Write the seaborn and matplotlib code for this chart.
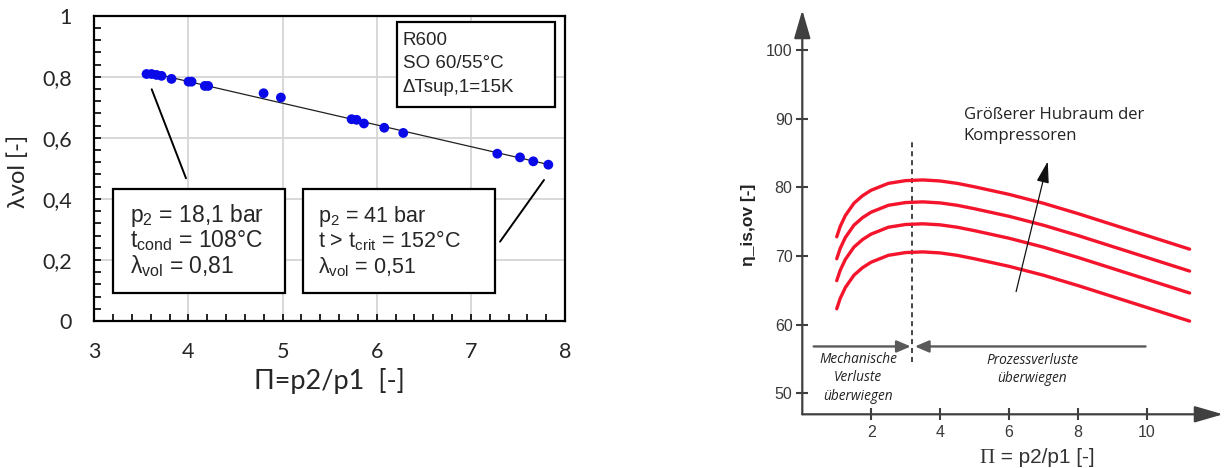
import numpy as np
import pandas as pd
import matplotlib
matplotlib.use("Agg")
import matplotlib.pyplot as plt
from matplotlib.ticker import MultipleLocator, FixedLocator
from matplotlib.patches import Rectangle
import seaborn as sns

# ---------------- data (left: measured points) ----------------
pi_ratio = [3.555, 3.608, 3.661, 3.714, 3.820, 4.001, 4.033, 4.174, 4.209, 4.798,
            4.982, 5.733, 5.786, 5.864, 6.080, 6.282, 7.281, 7.522, 7.663, 7.823]
lambda_vol = [0.809, 0.809, 0.806, 0.803, 0.793, 0.784, 0.784, 0.770, 0.770, 0.746,
              0.732, 0.661, 0.659, 0.647, 0.633, 0.616, 0.548, 0.536, 0.523, 0.512]
left_xticks = [3, 4, 5, 6, 7, 8]
left_yticks = [0, 0.2, 0.4, 0.6, 0.8, 1.0]
left_yticklabels = ["0", "0,2", "0,4", "0,6", "0,8", "1"]

# ---------------- data (right: schematic efficiency curves) ----------------
pi_curve = [1.0, 1.1, 1.25, 1.5, 1.75, 2.0, 2.5, 3.0, 3.5, 4.0, 4.5, 5.0,
            6.0, 7.0, 8.0, 9.0, 10.0, 11.25]
eta_curve_1 = [72.8, 74.3, 75.9, 77.7, 78.8, 79.6, 80.6, 81.0, 81.1, 80.95, 80.6, 80.1,
               79.0, 77.7, 76.2, 74.6, 73.0, 71.0]
eta_curve_2 = [69.6, 71.1, 72.7, 74.5, 75.6, 76.4, 77.4, 77.8, 77.9, 77.75, 77.4, 76.9,
               75.8, 74.5, 73.0, 71.4, 69.8, 67.8]
eta_curve_3 = [66.4, 67.9, 69.5, 71.3, 72.4, 73.2, 74.2, 74.6, 74.7, 74.55, 74.2, 73.7,
               72.6, 71.3, 69.8, 68.2, 66.6, 64.6]
eta_curve_4 = [62.3, 63.8, 65.4, 67.2, 68.3, 69.1, 70.1, 70.5, 70.6, 70.45, 70.1, 69.6,
               68.5, 67.2, 65.7, 64.1, 62.5, 60.5]
right_xticks = [2, 4, 6, 8, 10]
right_yticks = [50, 60, 70, 80, 90, 100]
boundary_pi = 3.2

# ---------------- style ----------------
sns.set_theme(style="white")
plt.rcParams["font.family"] = ["Liberation Sans", "DejaVu Sans"]
plt.rcParams["mathtext.fontset"] = "custom"
plt.rcParams["mathtext.rm"] = "Liberation Sans"
plt.rcParams["mathtext.it"] = "Liberation Sans:italic"
plt.rcParams["mathtext.bf"] = "Liberation Sans:bold"

fig = plt.figure(figsize=(12.24, 4.68), dpi=100)
W, H = 1224.0, 468.0

# ======================= LEFT CHART =======================
axL = fig.add_axes([94.3 / W, 1 - 321 / H, 470.7 / W, 305.3 / H])
dfL = pd.DataFrame({"pi": pi_ratio, "lam": lambda_vol})

axL.set_xlim(3, 8)
axL.set_ylim(0, 1)
axL.grid(True, which="major", color="#d6d6d6", lw=1.3)
axL.set_axisbelow(True)

coef = np.polyfit(dfL["pi"], dfL["lam"], 1)
fit_x = np.array([dfL["pi"].min(), dfL["pi"].max()])
fit_df = pd.DataFrame({"pi": fit_x, "lam": np.polyval(coef, fit_x)})
sns.lineplot(data=fit_df, x="pi", y="lam", ax=axL, color="#202020", lw=0.9, zorder=3)
sns.scatterplot(data=dfL, x="pi", y="lam", ax=axL, color="#0a0ae8", s=50,
                edgecolor="none", zorder=4)

axL.xaxis.set_major_locator(FixedLocator(left_xticks))
axL.yaxis.set_major_locator(FixedLocator(left_yticks))
axL.set_yticklabels(left_yticklabels)
axL.xaxis.set_minor_locator(MultipleLocator(0.2))
axL.yaxis.set_minor_locator(MultipleLocator(0.04))
axL.tick_params(axis="both", which="both", direction="in", length=4.8, width=1.2,
                color="black", top=False, right=False, left=True, bottom=True)
axL.tick_params(axis="y", which="major", pad=16, labelsize=15.5)
axL.tick_params(axis="x", which="major", pad=15, labelsize=15.5)
for lab in axL.get_xticklabels() + axL.get_yticklabels():
    lab.set_fontfamily(["Lato", "DejaVu Sans"])
for sp in axL.spines.values():
    sp.set_visible(True)
    sp.set_color("black")
    sp.set_linewidth(1.6)

axL.set_xlabel("Π=p2/p1  [-]", fontsize=19.5, family=["Lato", "DejaVu Sans"])
axL.xaxis.set_label_coords(0.5, -0.197)
axL.xaxis.label.set_va("center")
axL.set_ylabel("λvol [-]", fontsize=17, family=["Lato", "DejaVu Sans"])
axL.yaxis.set_label_coords(-0.1615, 0.491)
axL.yaxis.label.set_va("center")

def ax_frac(px, py):
    return ((px - 94.3) / 470.7, (321 - py) / 305.3)

# Info box top right
x0, y1 = ax_frac(396.7, 22.3)
x1, y0 = ax_frac(555, 106.7)
axL.add_patch(Rectangle((x0, y0), x1 - x0, y1 - y0, transform=axL.transAxes,
                        fill=True, facecolor="white", edgecolor="black", lw=1.6, zorder=5))
info_lines = ["R600", "SO 60/55°C", "ΔTsup,1=15K"]
for txt, by in zip(info_lines, [45.0, 67.5, 92.5]):
    tx, ty = ax_frac(402.7, by)
    axL.text(tx, ty, txt, transform=axL.transAxes, fontsize=13.5, va="baseline",
             ha="left", zorder=6)

# Annotation boxes
box_specs = [
    ((113.3, 189, 285, 292.7), 130,
     [r"p$_\mathrm{2}$ = 18,1 bar", r"t$_\mathrm{cond}$ = 108°C", r"λ$_\mathrm{vol}$ = 0,81"], 16.5),
    ((302.7, 189, 495, 293.3), 318,
     [r"p$_\mathrm{2}$ = 41 bar", r"t > t$_\mathrm{crit}$ = 152°C", r"λ$_\mathrm{vol}$ = 0,51"], 15.5),
]
for (bx0, by0, bx1, by1), tx_px, lines, fs in box_specs:
    fx0, fy1 = ax_frac(bx0, by0)
    fx1, fy0 = ax_frac(bx1, by1)
    axL.add_patch(Rectangle((fx0, fy0), fx1 - fx0, fy1 - fy0, transform=axL.transAxes,
                            facecolor="white", edgecolor="black", lw=1.6, zorder=5))
    for txt, by in zip(lines, [222.0, 247.5, 273.0]):
        tx, ty = ax_frac(tx_px, by)
        axL.text(tx, ty, txt, transform=axL.transAxes, fontsize=fs, va="baseline",
                 ha="left", zorder=6)

# pointer lines
for (px0, py0, px1, py1) in [(151.7, 89.3, 186, 178.3), (544, 180, 500, 241.7)]:
    a = ax_frac(px0, py0)
    b = ax_frac(px1, py1)
    axL.plot([a[0], b[0]], [a[1], b[1]], transform=axL.transAxes, color="black",
             lw=1.4, zorder=6, clip_on=False)

# ======================= RIGHT CHART =======================
axR = fig.add_axes([802.3 / W, 1 - 414.3 / H, 420.7 / W, 404.3 / H])
xmax_r, ymin_r, ymax_r = 12.22, 46.9, 105.9
axR.set_xlim(0, xmax_r)
axR.set_ylim(ymin_r, ymax_r)
for sp in axR.spines.values():
    sp.set_visible(False)

curves = []
for i, ys in enumerate([eta_curve_1, eta_curve_2, eta_curve_3, eta_curve_4]):
    curves.append(pd.DataFrame({"pi": pi_curve, "eta": ys, "curve": f"c{i}"}))
dfR = pd.concat(curves, ignore_index=True)
sns.lineplot(data=dfR, x="pi", y="eta", hue="curve", palette=["#f4142c"] * 4,
             lw=2.4, legend=False, ax=axR, zorder=3)
axR.set_xlabel("")

axis_col = "#404040"
arrow_kw = dict(arrowstyle="-|>,head_length=1.45,head_width=0.42", color=axis_col,
                lw=1.6, shrinkA=0, shrinkB=0)
axR.annotate("", xy=(0, ymax_r), xytext=(0, ymin_r), arrowprops=arrow_kw,
             annotation_clip=False)
axR.annotate("", xy=(xmax_r, ymin_r), xytext=(0, ymin_r), arrowprops=arrow_kw,
             annotation_clip=False)

axR.set_xticks(right_xticks)
axR.set_yticks(right_yticks)
axR.tick_params(axis="both", which="major", direction="inout", length=8, width=1.5,
                color=axis_col, labelcolor="#3a3a3a", labelsize=11.5,
                left=True, bottom=True)
axR.tick_params(axis="y", pad=3)
axR.tick_params(axis="x", pad=4)
axR.grid(False)

axR.set_ylabel("η_is,ov [-]", fontsize=12.5, fontweight="bold", color="#222222")
axR.yaxis.set_label_coords(-0.1267, 0.468)
axR.yaxis.label.set_va("center")

xl_x = (995 - 802.3) / 420.7
xl_y = (414.3 - 463.3) / 404.3
axR.text(xl_x, xl_y, "Π", transform=axR.transAxes, ha="right", va="baseline",
         fontsize=15, family="Liberation Serif", color="#333333")
axR.text(xl_x, xl_y, " = p2/p1 [-]", transform=axR.transAxes, ha="left", va="baseline",
         fontsize=15, color="#333333")

# boundary dashed line
axR.plot([boundary_pi, boundary_pi], [54.6, 87.0], ls=(0, (2.6, 2.0)), color="#444444",
         lw=1.4, zorder=2)

# region arrows
reg_kw = dict(arrowstyle="-|>,head_length=0.7,head_width=0.3", color="#5a5a5a",
              lw=1.7, shrinkA=0, shrinkB=0)
axR.annotate("", xy=(3.15, 56.8), xytext=(0.33, 56.8), arrowprops=reg_kw)
axR.annotate("", xy=(3.27, 56.8), xytext=(9.97, 56.8), arrowprops=reg_kw)

axR.text(1.62, 52.2, "Mechanische\nVerluste\nüberwiegen", ha="center", va="center",
         fontsize=9.8, style="italic", family="Open Sans", color="#222222",
         linespacing=1.3)
axR.text(6.68, 53.4, "Prozessverluste\nüberwiegen", ha="center", va="center",
         fontsize=9.8, style="italic", family="Open Sans", color="#222222",
         linespacing=1.3)

# displacement arrow + text
axR.annotate("", xy=(7.13, 83.8), xytext=(6.21, 64.8),
             arrowprops=dict(arrowstyle="-|>,head_length=1.1,head_width=0.32",
                             color="#111111", lw=0.9, shrinkA=0, shrinkB=0), zorder=5)
axR.text(4.69, 89.1, "Größerer Hubraum der\nKompressoren", ha="left", va="center",
         fontsize=12, family="Open Sans", color="#222222", linespacing=1.4)

fig.savefig("out.png", dpi=100)
